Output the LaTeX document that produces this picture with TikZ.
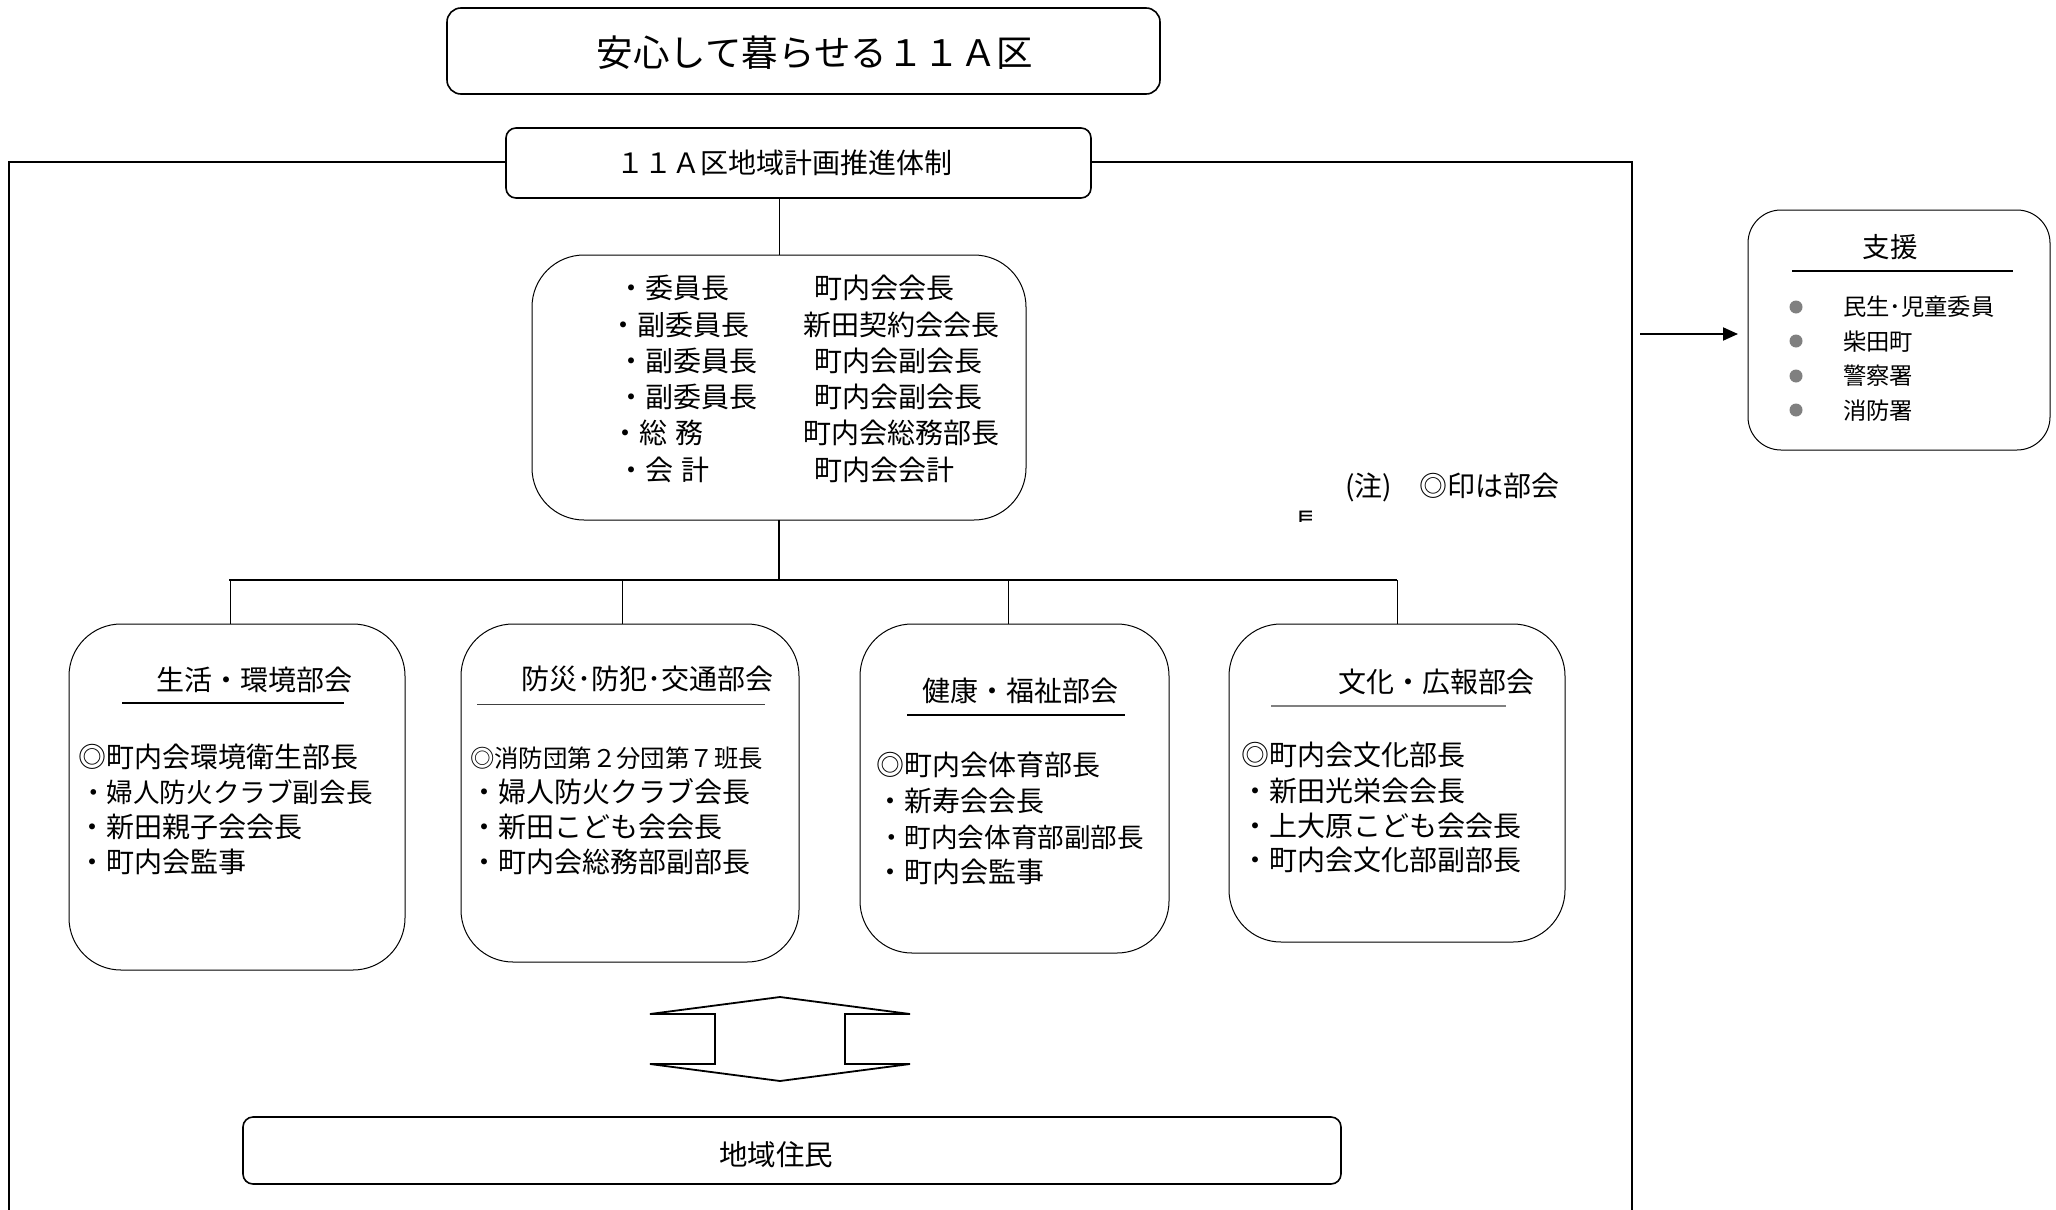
\documentclass[tikz,border=0pt]{standalone}
\usepackage{fontspec}
\setmainfont{Noto Sans CJK JP}
\usetikzlibrary{arrows.meta}
\newcommand\fsz[1]{\fontsize{#1}{#1}\selectfont}
\tikzset{
  txt/.style={inner sep=0pt, outer sep=0pt, anchor=west},
  txtc/.style={inner sep=0pt, outer sep=0pt, anchor=center},
  rbox/.style={draw, fill=white, inner sep=0pt, outer sep=0pt},
  thinbox/.style={rbox, line width=1pt, rounded corners=52pt},
  frameline/.style={line width=2pt},
  uline/.style={line width=2pt},
}
\begin{document}
\begin{tikzpicture}[x=1pt,y=-1pt]
\useasboundingbox (0,0) rectangle (2056,1210);
% outer frame
\draw[frameline] (9,1210) -- (9,162) -- (1632,162) -- (1632,1210);

% title
\node[rbox, line width=1.6pt, rounded corners=14pt, minimum width=713pt, minimum height=86pt] (title) at (803.5,51) {};
\node[txtc] (titletext) at (815,53) {\fsz{36.5}安心して暮らせる１１Ａ区};

% plan box
\node[rbox, line width=1.6pt, rounded corners=10pt, minimum width=585pt, minimum height=70pt] (plan) at (798.5,163) {};
\node[txtc] (plantext) at (784,163) {\fsz{28}１１Ａ区地域計画推進体制};

% committee
\node[thinbox, minimum width=494pt, minimum height=265pt] (comm) at (779,387.5) {};
\draw[line width=1pt] (comm.north) -- (comm.north |- plan.south);
\node[txt] (c1l) at (617,288) {\fsz{28}・委員長};
\node[txt] (c2l) at (609,325) {\fsz{28}・副委員長};
\node[txt] (c3l) at (617,361) {\fsz{28}・副委員長};
\node[txt] (c4l) at (617,397) {\fsz{28}・副委員長};
\node[txt] (c5l) at (611,433) {\fsz{28}・総\hspace{0.3em}務};
\node[txt] (c6l) at (617,470) {\fsz{28}・会\hspace{0.3em}計};
\node[txt] (c1r) at (814,288) {\fsz{28}町内会会長};
\node[txt] (c2r) at (803,325) {\fsz{28}新田契約会会長};
\node[txt] (c3r) at (814,361) {\fsz{28}町内会副会長};
\node[txt] (c4r) at (814,397) {\fsz{28}町内会副会長};
\node[txt] (c5r) at (803,433) {\fsz{28}町内会総務部長};
\node[txt] (c6r) at (814,470) {\fsz{28}町内会会計};

% note
\node[txt] (note) at (1345,487) {\fsz{28}(注)　◎印は部会};
\begin{scope}
\clip (1290,507) rectangle (1311,521);
\node[inner sep=0pt, anchor=base west] (notecut) at (1293,533) {\fsz{28}長};
\end{scope}

% sub-committees
\node[thinbox, minimum width=336pt, minimum height=346pt] (b1) at (237,797) {};
\node[thinbox, minimum width=338pt, minimum height=338pt] (b2) at (630,793) {};
\node[thinbox, minimum width=309pt, minimum height=329pt] (b3) at (1014.5,788.5) {};
\node[thinbox, minimum width=336pt, minimum height=318pt] (b4) at (1397,783) {};

% bus
\coordinate (busL) at (229,580);
\coordinate (busR) at (1397,580);
\coordinate (d1) at (230,580);
\coordinate (d2) at (622,580);
\coordinate (d3) at (1008,580);
\coordinate (d4) at (1397,580);
\draw[line width=2pt] (comm.south) -- (comm.south |- busL);
\draw[line width=2pt] (busL) -- (busR);
\draw[line width=1pt] (d1) -- (d1 |- b1.north);
\draw[line width=1pt] (d2) -- (d2 |- b2.north);
\draw[line width=1pt] (d3) -- (d3 |- b3.north);
\draw[line width=1pt] (d4) -- (d4 |- b4.north);

% box 1
\node[txtc] (b1t) at (254,680) {\fsz{28}生活・環境部会};
\draw[uline] (122,703) -- (344,703);
\node[txt] (b1a) at (78,757) {\fsz{28}◎町内会環境衛生部長};
\node[txt] (b1b) at (80,792) {\fsz{26.6}・婦人防火クラブ副会長};
\node[txt] (b1c) at (78,827) {\fsz{28}・新田親子会会長};
\node[txt] (b1d) at (78,862) {\fsz{28}・町内会監事};

% box 2
\node[txtc] (b2t) at (647,679) {\fsz{28}防災･防犯･交通部会};
\draw[line width=1pt, black!75] (477,704) -- (765,704);
\node[txt] (b2a) at (470,758) {\fsz{24.4}◎消防団第２分団第７班長};
\node[txt] (b2b) at (470,792) {\fsz{28}・婦人防火クラブ会長};
\node[txt] (b2c) at (470,827) {\fsz{28}・新田こども会会長};
\node[txt] (b2d) at (470,862) {\fsz{28}・町内会総務部副部長};

% box 3
\node[txtc] (b3t) at (1020,691) {\fsz{28}健康・福祉部会};
\draw[uline] (907,715) -- (1125,715);
\node[txt] (b3a) at (876,765) {\fsz{28}◎町内会体育部長};
\node[txt] (b3b) at (876,801) {\fsz{28}・新寿会会長};
\node[txt] (b3c) at (878,837) {\fsz{26.6}・町内会体育部副部長};
\node[txt] (b3d) at (876,872) {\fsz{28}・町内会監事};

% box 4
\node[txtc] (b4t) at (1436,682) {\fsz{28}文化・広報部会};
\draw[uline, black!50] (1271,706) -- (1506,706);
\node[txt] (b4a) at (1241,755) {\fsz{28}◎町内会文化部長};
\node[txt] (b4b) at (1241,791) {\fsz{28}・新田光栄会会長};
\node[txt] (b4c) at (1241,826) {\fsz{28}・上大原こども会会長};
\node[txt] (b4d) at (1241,860) {\fsz{28}・町内会文化部副部長};

% support
\node[rbox, line width=1pt, rounded corners=33pt, minimum width=302pt, minimum height=240pt] (support) at (1899,330) {};
\coordinate (arrS) at (1640,334);
\draw[line width=2pt, -{Triangle[length=15pt,width=13pt]}, shorten >=10pt] (arrS) -- (arrS -| support.west);
\node[txtc] (supt) at (1890,247) {\fsz{27.5}支援};
\draw[uline] (1792,271) -- (2013,271);
\foreach \yy in {307,341,376,410} \fill[black!50] (1796,\yy) circle (6.5pt);
\node[txt] (s1) at (1843,307) {\fsz{23.3}民生･児童委員};
\node[txt] (s2) at (1843,342) {\fsz{23.3}柴田町};
\node[txt] (s3) at (1843,376) {\fsz{23.3}警察署};
\node[txt] (s4) at (1843,411) {\fsz{23.3}消防署};

% double arrow
\draw[line width=1.8pt, line join=miter] (780,997) -- (910,1014) -- (845,1014) -- (845,1064) -- (910,1064) -- (780,1081) -- (650,1064) -- (715,1064) -- (715,1014) -- (650,1014) -- cycle;

% residents
\node[rbox, line width=1.6pt, rounded corners=10pt, minimum width=1098pt, minimum height=67pt] (res) at (792,1150.5) {};
\node[txtc] (restext) at (776,1155) {\fsz{28.5}地域住民};
\end{tikzpicture}
\end{document}
